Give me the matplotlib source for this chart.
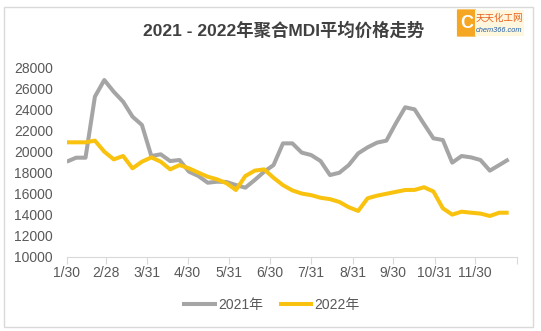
import matplotlib
matplotlib.use("Agg")
import matplotlib.pyplot as plt
import matplotlib.patches as mpatches
import pandas as pd

# ---- data ----
week_dates = ["01-30", "02-06", "02-13", "02-20", "02-27", "03-06", "03-13", "03-20",
              "03-27", "04-03", "04-10", "04-17", "04-24", "05-01", "05-08", "05-15",
              "05-22", "05-29", "06-05", "06-12", "06-19", "06-26", "07-03", "07-10",
              "07-17", "07-24", "07-31", "08-07", "08-14", "08-21", "08-28", "09-04",
              "09-11", "09-18", "09-25", "10-02", "10-09", "10-16", "10-23", "10-30",
              "11-06", "11-13", "11-20", "11-27", "12-04", "12-11", "12-18", "12-25"]

price_2021 = [19030, 19410, 19410, 25210, 26790, 25680, 24730, 23310, 22520, 19570,
              19730, 19090, 19190, 18080, 17670, 17030, 17130, 17100, 16810, 16560,
              17290, 18080, 18710, 20770, 20770, 19890, 19660, 19090, 17760, 17980,
              18710, 19820, 20390, 20840, 21030, 22670, 24200, 24000, 22610, 21250,
              21090, 18940, 19570, 19440, 19190, 18180, 18710, 19250]

price_2022 = [20870, 20870, 20870, 21030, 19980, 19250, 19570, 18400, 19030, 19440,
              19030, 18300, 18710, 18400, 17990, 17600, 17350, 16980, 16340, 17670,
              18180, 18300, 17500, 16800, 16300, 16000, 15850, 15600, 15470, 15200,
              14700, 14350, 15550, 15800, 15980, 16160, 16340, 16350, 16600, 16200,
              14600, 14000, 14280, 14180, 14100, 13870, 14180, 14180]

tick_dates = ["01-30", "02-28", "03-31", "04-30", "05-31", "06-30", "07-31",
              "08-31", "09-30", "10-31", "11-30", "12-31"]
tick_labels = ["1/30", "2/28", "3/31", "4/30", "5/31", "6/30", "7/31",
               "8/31", "9/30", "10/31", "11/30", ""]
y_ticks = [10000, 12000, 14000, 16000, 18000, 20000, 22000, 24000, 26000, 28000]

series_names = ["2021年", "2022年"]
title = "2021 - 2022年聚合MDI平均价格走势"

# ---- style ----
FONT = ["Liberation Sans", "Noto Sans CJK SC", "DejaVu Sans"]
plt.rcParams["font.family"] = FONT
TXT = "#595959"
GRID = "#d9d9d9"

x = pd.to_datetime(["2022-" + d for d in week_dates])
xt = pd.to_datetime(["2022-" + d for d in tick_dates])

fig = plt.figure(figsize=(5.41, 3.31), dpi=100)
ax = fig.add_axes([66.7 / 541, 1 - 256.7 / 331, 450 / 541, (256.7 - 67.3) / 331])

ax.plot(x, price_2021, color="#A5A5A5", lw=2.9, solid_joinstyle="round",
        solid_capstyle="butt", label=series_names[0])
ax.plot(x, price_2022, color="#F8C20F", lw=2.9, solid_joinstyle="round",
        solid_capstyle="butt", label=series_names[1])

ax.set_xlim(xt[0], xt[-1])
ax.set_ylim(y_ticks[0], y_ticks[-1])
ax.set_xticks(xt)
ax.set_xticklabels(tick_labels)
ax.set_yticks(y_ticks)
ax.set_yticklabels([str(v) for v in y_ticks])

for s in ["top", "right", "left"]:
    ax.spines[s].set_visible(False)
ax.spines["bottom"].set_color(GRID)
ax.spines["bottom"].set_linewidth(0.8)
ax.tick_params(axis="x", direction="out", length=5, width=0.8, color=GRID,
               labelsize=10, labelcolor=TXT, pad=2)
ax.tick_params(axis="y", length=0, labelsize=10, labelcolor=TXT, pad=9.8)

# title
fig.text(284 / 541, 1 - 30 / 331, title, ha="center", va="center",
         fontsize=12.5, fontweight="bold", color="#404040", family=FONT)

# legend
fig.legend(loc="center", bbox_to_anchor=(271 / 541, 1 - 305 / 331), ncol=2,
           frameon=False, fontsize=10, labelcolor=TXT, handlelength=2.5,
           handletextpad=0.1, columnspacing=1.1)

# outer frame
fig.patches.append(mpatches.Rectangle((4 / 541, 1 - 327 / 331), 529 / 541, 320 / 331,
                                      transform=fig.transFigure, fill=False,
                                      edgecolor=GRID, linewidth=1.0))

# logo (approximation)
fig.patches.append(mpatches.FancyBboxPatch((458 / 541, 1 - 36 / 331), 17 / 541, 26 / 331,
                                           boxstyle="round,pad=0.002",
                                           transform=fig.transFigure,
                                           facecolor="#F5A623", edgecolor="none"))
fig.patches.append(mpatches.Rectangle((475 / 541, 1 - 36 / 331), 49 / 541, 26 / 331,
                                      transform=fig.transFigure,
                                      facecolor="#FFF6DE", edgecolor="none"))
fig.text(466.5 / 541, 1 - 23 / 331, "C", ha="center", va="center", fontsize=13,
         color="white", fontweight="bold", family=FONT)
fig.text(499.5 / 541, 1 - 18 / 331, "天天化工网", ha="center", va="center", fontsize=6.8,
         color="#E8601C", family=FONT)
fig.text(499.5 / 541, 1 - 30 / 331, "chem366.com", ha="center", va="center", fontsize=5.3,
         color="#1F5FA8", style="italic", family=FONT)

fig.savefig("out.png", dpi=100)
